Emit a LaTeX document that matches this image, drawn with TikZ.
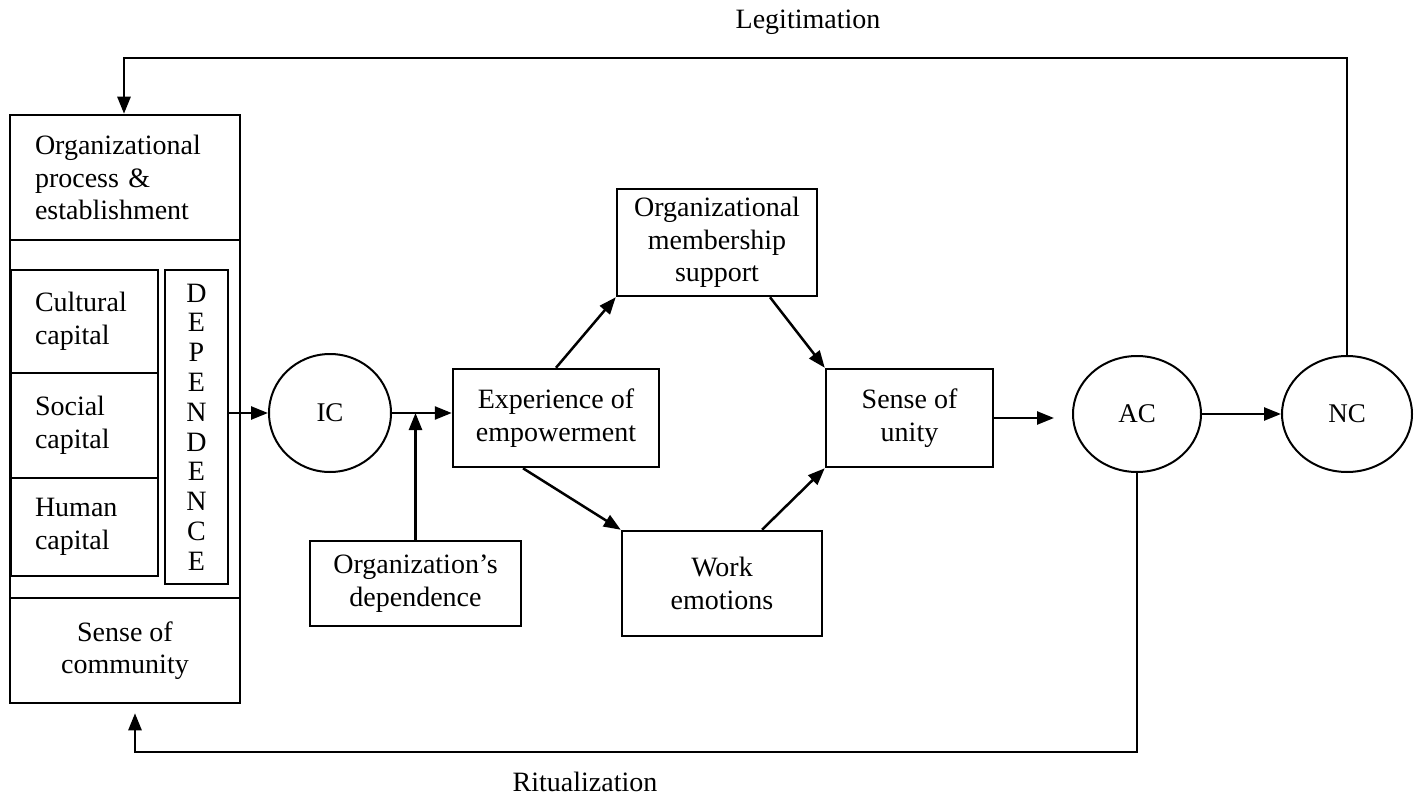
\documentclass[tikz,border=0pt]{standalone}
\usepackage{fontspec}
\setmainfont{Liberation Serif}
\usetikzlibrary{arrows.meta,shapes.geometric}
\newcommand\fsz{\fontsize{28}{32.5}\selectfont}
\tikzset{
  box/.style={draw, line width=2.5pt, inner sep=0pt, align=center, font=\fsz},
  circ/.style={draw, ellipse, line width=2pt, inner sep=0pt, font=\fontsize{27}{30}\selectfont},
  arr/.style={line width=2.5pt, -{Triangle[length=17pt,width=13pt]}},
  lbl/.style={inner sep=0pt, font=\fsz}
}
\begin{document}
\begin{tikzpicture}[x=1pt,y=-1pt]
\useasboundingbox (0,0) rectangle (1428,800);
% left composite box
\node[box, minimum width=230pt, minimum height=125pt, text width=180pt, align=left] (orgproc) at (125,177.5) {Organizational\\process \&\\establishment};
\node[box, minimum width=230pt, minimum height=358pt] (mid) at (125,419) {};
\node[box, minimum width=230pt, minimum height=105pt] (comm) at (125,650.5) {Sense of\\community};
\node[box, minimum width=147pt, minimum height=103pt, text width=99pt, align=left] (cult) at (84.5,321.5) {Cultural\\capital};
\node[box, minimum width=147pt, minimum height=105pt, text width=99pt, align=left] (soc) at (84.5,425.5) {Social\\capital};
\node[box, minimum width=147pt, minimum height=98pt, text width=99pt, align=left] (hum) at (84.5,527) {Human\\capital};
\node[box, minimum width=63pt, minimum height=314pt, font=\fontsize{28}{29.8}\selectfont] (dep) at (196.5,427) {D\\E\\P\\E\\N\\D\\E\\N\\C\\E};
% circles
\node[circ, minimum width=122pt, minimum height=118pt] (IC) at (330,413) {IC};
\node[circ, minimum width=128pt, minimum height=116pt] (AC) at (1137,414) {AC};
\node[circ, minimum width=130pt, minimum height=116pt] (NC) at (1347,414) {NC};
% boxes
\node[box, minimum width=206pt, minimum height=98pt] (exp) at (556,418) {Experience of\\empowerment};
\node[box, minimum width=211pt, minimum height=85pt] (odep) at (415.5,583.5) {Organization’s\\dependence};
\node[box, minimum width=200pt, minimum height=107pt] (mem) at (717,242.5) {Organizational\\membership\\support};
\node[box, minimum width=200pt, minimum height=105pt] (work) at (722,583.5) {Work\\emotions};
\node[box, minimum width=167pt, minimum height=98pt] (sou) at (909.5,418) {Sense of\\unity};
% labels
\node[lbl] (legit) at (808,22) {Legitimation};
\node[lbl] (ritual) at (585,782) {Ritualization};
% feedback loops
\coordinate (tl) at (124,58);
\coordinate (bl) at (135,752);
\draw[arr] (NC.north) |- (tl) -- (tl |- orgproc.north);
\draw[arr, shorten >=9pt] (AC.south) |- (bl) -- (bl |- comm.south);
% main flow
\draw[arr] (dep.east |- IC.west) -- (IC.west);
\draw[arr] (IC.east) -- (exp.west |- IC.east);
\draw[arr] (odep.north) -- (odep.north |- IC.east);
\draw[arr] (exp.north) -- (mem.south west);
\draw[arr] ([xshift=53pt]mem.south) -- (sou.north west);
\draw[arr] ([xshift=-33pt]exp.south) -- (work.north west);
\draw[arr] ([xshift=40pt]work.north) -- (sou.south west);
\draw[arr, shorten >=18pt] (sou.east) -- (sou.east -| AC.west);
\draw[arr] (AC.east) -- (NC.west);
\end{tikzpicture}
\end{document}
